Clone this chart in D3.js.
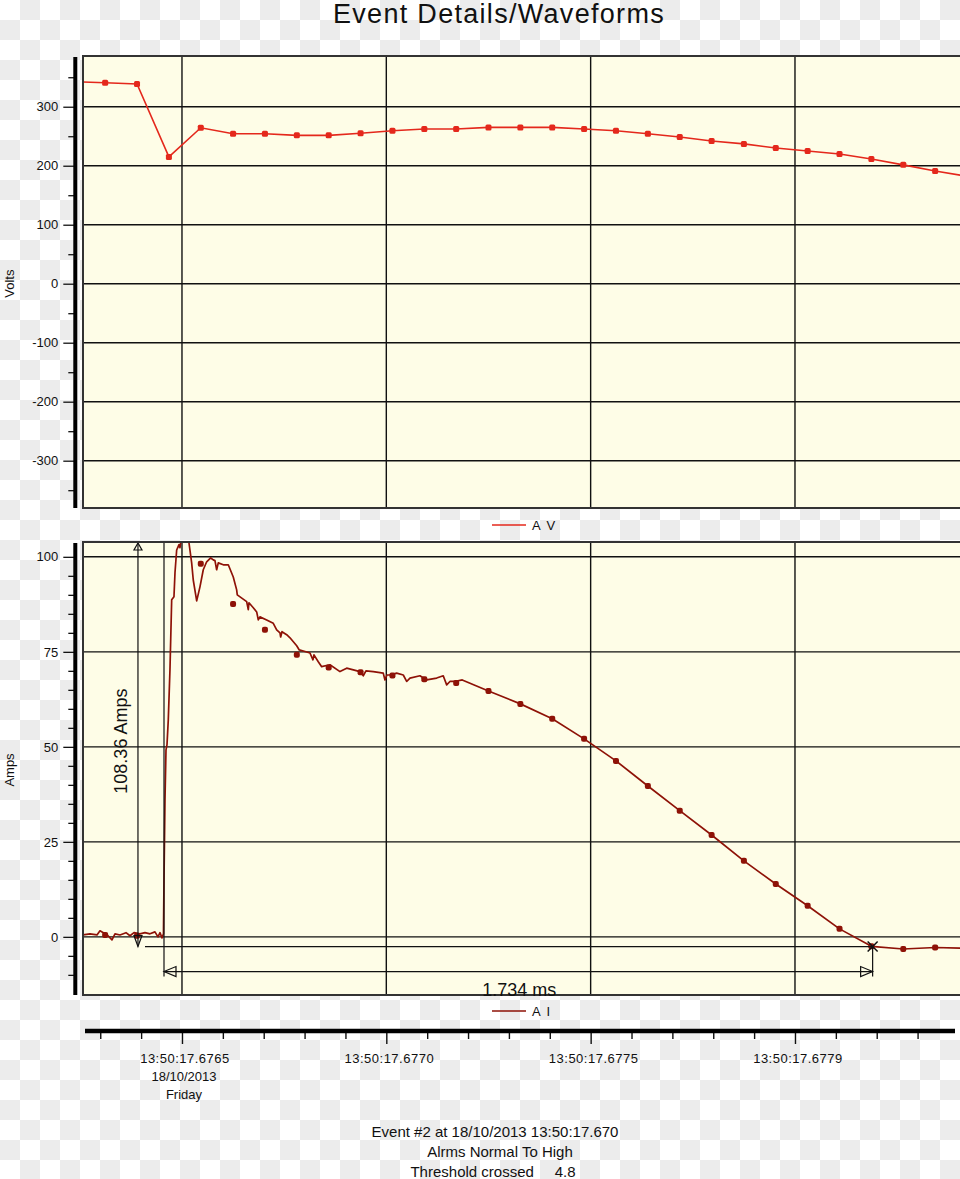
<!DOCTYPE html>
<html><head><meta charset="utf-8">
<script src="https://cdn.jsdelivr.net/npm/d3@7"></script>
<style>
body{margin:0;background:#fff;}
svg{display:block;font-family:"Liberation Sans",Arial,sans-serif;}
</style>
</head><body><svg id="c" width="960" height="1179"></svg>
<script>
// ---- data (time in ms after 13:50:17.676) ----
const sampleTimeMs = [0.234, 0.312, 0.390, 0.468, 0.546, 0.625, 0.703, 0.781, 0.859, 0.937, 1.015, 1.093, 1.171, 1.250, 1.328, 1.406, 1.484, 1.562, 1.640, 1.718, 1.796, 1.875, 1.953, 2.031, 2.109, 2.187, 2.265, 2.343, 2.421];
const voltsAV = [342.6, 340.7, 338.5, 215, 264.4, 254.2, 254.2, 251.5, 251.5, 255, 259.3, 262.2, 262.2, 265, 265, 265, 262.2, 259.3, 254.2, 248.6, 242, 237, 230, 225, 220, 211.5, 201.5, 191, 182];
const ampsAISamples = [0.3, 0.5, 0.3, null, 98.2, 87.6, 80.8, 74.2, 70.9, 69.6, 68.8, 67.8, 66.8, 64.7, 61.3, 57.4, 52.1, 46.3, 39.7, 33.2, 26.8, 20.0, 13.9, 8.2, 2.1, -2.5, -3.2, -2.8, -3.0];
const traceTimeMs = [0.2578, 0.2749, 0.2920, 0.2994, 0.3116, 0.3190, 0.3287, 0.3361, 0.3483, 0.3630, 0.3728, 0.3826, 0.3972, 0.4095, 0.4217, 0.4339, 0.4413, 0.4462, 0.4511, 0.4547,
  0.4560, 0.4584, 0.4609, 0.4633, 0.4665, 0.4706, 0.4748, 0.4804, 0.4829, 0.4870, 0.4927, 0.4951, 0.4993, 0.5115, 0.5171, 0.5237, 0.5276, 0.5360, 0.5440, 0.5521, 0.5604, 0.5702, 0.5766, 0.5807, 0.5849, 0.5888, 0.6011, 0.6133, 0.6255, 0.6338, 0.6353, 0.6583, 0.6622, 0.6639, 0.6745, 0.6828, 0.6867, 0.6908, 0.7072, 0.7234, 0.7317, 0.7398, 0.7415, 0.7447, 0.7562, 0.7643, 0.7807, 0.7870, 0.8010, 0.8132, 0.8205, 0.8230, 0.8335, 0.8418, 0.8621, 0.8866, 0.9030, 0.9355, 0.9436, 0.9502, 0.9681, 0.9925, 0.9967, 1.0015, 1.0089, 1.0253, 1.0415, 1.0498, 1.0579, 1.0823, 1.0987, 1.1232, 1.1393, 1.1477, 1.1557, 1.1680, 1.1858];
const traceAmpsAI = [0.5, 0.8, 0.5, 1.6, 0.8, 0.3, -0.8, 0.8, 0.5, 1.1, 0.3, 1.1, 0.8, 1.1, 0.8, 1.3, 0.0, 1.1, -0.3, 0.8,
  15, 36, 49.2, 50.5, 57.1, 70.3, 88.7, 89.5, 95.8, 101.8, 103.2, 102.4, 105.8, 105.8, 103.7, 98.4, 93.9, 88.4, 92.1, 96.6, 98.7, 99.7, 99.2, 99.0, 96.6, 98.4, 97.9, 97.9, 94.7, 91.3, 90.0, 88.2, 86.1, 87.9, 86.6, 85.5, 83.4, 84.2, 83.4, 82.5, 80.8, 80.0, 78.9, 80.3, 79.5, 78.7, 76.6, 75.5, 75.1, 74.7, 72.9, 74.2, 72.4, 71.1, 71.6, 69.8, 70.7, 69.8, 68.7, 70.0, 69.8, 69.4, 67.6, 68.9, 68.9, 69.4, 68.9, 67.2, 68.1, 68.7, 67.6, 68.1, 68.7, 66.3, 67.2, 67.2, 67.6];
const timeMajorTicks = [0.5, 1.0, 1.5, 2.0];
const timeTickLabels = ["13:50:17.6765", "13:50:17.6770", "13:50:17.6775", "13:50:17.6779"];
const timeMinorTicks = [0.3, 0.4, 0.6, 0.7, 0.8, 0.9, 1.1, 1.2, 1.3, 1.4, 1.6, 1.7, 1.8, 1.9, 2.1, 2.2, 2.3];
const voltTicks = [-300, -200, -100, 0, 100, 200, 300];
const voltMinorTicks = [-350, -250, -150, -50, 50, 150, 250, 350];
const ampTicks = [0, 25, 50, 75, 100];
const ampMinorTicks = [-10, -5, 5, 10, 15, 20, 30, 35, 40, 45, 55, 60, 65, 70, 80, 85, 90, 95];
const peakAmps = 105.81, thresholdAmps = -2.55;
const measureStartMs = 0.456, measureDurationMs = 1.734, peakMarkerMs = 0.3923, thresholdLineStartMs = 0.4095;
const footerLines = ["Event #2 at 18/10/2013 13:50:17.670", "Alrms Normal To High", "Threshold crossed     4.8"];

// ---- drawing ----
const svg = d3.select("#c");
const defs = svg.append("defs");
const pat = defs.append("pattern").attr("id", "chk").attr("width", 40).attr("height", 40).attr("patternUnits", "userSpaceOnUse");
pat.append("rect").attr("width", 40).attr("height", 40).attr("fill", "#ffffff");
pat.append("rect").attr("x", 20).attr("y", 0).attr("width", 20).attr("height", 20).attr("fill", "#ececec");
pat.append("rect").attr("x", 0).attr("y", 20).attr("width", 20).attr("height", 20).attr("fill", "#ececec");
svg.append("rect").attr("width", 960).attr("height", 1179).attr("fill", "url(#chk)");

const L = 83, R = 962;
const x = d3.scaleLinear().domain([0.2578, 2.4038]).range([83, 960]);
const yV = d3.scaleLinear().domain([-380.2, 386]).range([508, 56]);
const yA = d3.scaleLinear().domain([-15.3, 103.9]).range([995, 542]);
const CREAM = "#fefde7", RED = "#e4281c", DRED = "#8e1207";

svg.append("text").attr("x", 499).attr("y", 23).attr("text-anchor", "middle")
  .attr("font-size", 27).attr("letter-spacing", 1.3).attr("fill", "#111").text("Event Details/Waveforms");

function panel(y, ticks, minor, id) {
  const [b, t] = y.range();
  const g = svg.append("g");
  defs.append("clipPath").attr("id", id).append("rect").attr("x", L).attr("y", t).attr("width", R - L).attr("height", b - t);
  g.append("rect").attr("x", L).attr("y", t).attr("width", R - L).attr("height", b - t).attr("fill", CREAM);
  g.selectAll(".hg").data(ticks).join("line").attr("x1", L).attr("x2", R)
    .attr("y1", d => y(d)).attr("y2", d => y(d)).attr("stroke", "#111").attr("stroke-width", 1.4);
  g.selectAll(".vg").data(timeMajorTicks).join("line").attr("x1", d => x(d)).attr("x2", d => x(d))
    .attr("y1", t).attr("y2", b).attr("stroke", "#111").attr("stroke-width", 1.4);
  const ax = svg.append("g").attr("transform", "translate(75.3,0)");
  ax.call(d3.axisLeft(y).tickValues(ticks).tickSize(12).tickPadding(5).tickFormat(d => String(d)));
  ax.append("g").call(d3.axisLeft(y).tickValues(minor).tickSize(7).tickFormat(""));
  ax.selectAll(".domain").remove();
  ax.selectAll("line").attr("stroke", "#111").attr("stroke-width", 1.3);
  ax.selectAll("text").attr("font-size", 13).attr("fill", "#111").attr("font-family", "Liberation Sans, Arial, sans-serif");
  ax.append("line").attr("x1", 0).attr("x2", 0).attr("y1", t + 1).attr("y2", b).attr("stroke", "#000").attr("stroke-width", 4);
  return {g, t, b};
}

// top panel
const P1 = panel(yV, voltTicks, voltMinorTicks, "clipV");
const vData = sampleTimeMs.map((t, i) => ({t, v: voltsAV[i]}));
const gV = P1.g.append("g").attr("clip-path", "url(#clipV)");
gV.append("path").datum(vData).attr("fill", "none").attr("stroke", RED).attr("stroke-width", 1.6)
  .attr("d", d3.line().x(d => x(d.t)).y(d => yV(d.v)));
gV.selectAll(".mv").data(vData).join("rect").attr("x", d => x(d.t) - 3).attr("y", d => yV(d.v) - 3)
  .attr("width", 6).attr("height", 6).attr("rx", 1.5).attr("fill", RED);
P1.g.append("rect").attr("x", L).attr("y", P1.t).attr("width", R - L).attr("height", P1.b - P1.t)
  .attr("fill", "none").attr("stroke", "#333").attr("stroke-width", 2);

// bottom panel
const P2 = panel(yA, ampTicks, ampMinorTicks, "clipA");
const gA = P2.g.append("g").attr("clip-path", "url(#clipA)");
const traceData = traceTimeMs.map((t, i) => ({t, v: traceAmpsAI[i]}))
  .concat(sampleTimeMs.map((t, i) => ({t, v: ampsAISamples[i]})).filter(d => d.t > 1.2 && d.v !== null));
gA.append("path").datum(traceData).attr("fill", "none").attr("stroke", DRED).attr("stroke-width", 1.7)
  .attr("stroke-linejoin", "round").attr("d", d3.line().x(d => x(d.t)).y(d => yA(d.v)));
gA.selectAll(".ma").data(sampleTimeMs.map((t, i) => ({t, v: ampsAISamples[i]})).filter(d => d.v !== null))
  .join("rect").attr("x", d => x(d.t) - 3).attr("y", d => yA(d.v) - 3)
  .attr("width", 6).attr("height", 6).attr("rx", 2).attr("fill", DRED);

// annotations
const an = P2.g.append("g").attr("stroke", "#111").attr("stroke-width", 1.2).attr("fill", "none");
const xs = x(measureStartMs), xe = x(measureStartMs + measureDurationMs), xp = x(peakMarkerMs);
const yT = yA(thresholdAmps), yM = yT + 25;
an.append("line").attr("x1", xp).attr("x2", xp).attr("y1", P2.t).attr("y2", yT);
an.append("path").attr("d", `M${xp},${P2.t + 1}l-4,7h8z`);
an.append("path").attr("d", `M${xp},${yT}l-4,-11h8z`);
an.append("line").attr("x1", x(thresholdLineStartMs)).attr("x2", xe).attr("y1", yT).attr("y2", yT);
an.append("line").attr("x1", xs).attr("x2", xs).attr("y1", P2.t).attr("y2", yM + 5);
an.append("path").attr("d", `M${xs + 8},${P2.t}l-3,-5l-3,5`).attr("clip-path", "url(#clipA)");
an.append("line").attr("x1", xs).attr("x2", xe).attr("y1", yM).attr("y2", yM);
an.append("path").attr("d", `M${xs},${yM}l12,-5v10z`);
an.append("path").attr("d", `M${xe},${yM}l-12,-5v10z`);
an.append("line").attr("x1", xe).attr("x2", xe).attr("y1", yT).attr("y2", yM + 5);
an.append("path").attr("d", `M${xe - 5},${yT - 5}l10,10M${xe + 5},${yT - 5}l-10,10`).attr("stroke-width", 1.5);
P2.g.append("rect").attr("x", L).attr("y", P2.t).attr("width", R - L).attr("height", P2.b - P2.t)
  .attr("fill", "none").attr("stroke", "#333").attr("stroke-width", 2);
svg.append("text").attr("transform", `translate(${xp - 11},${yA(51.5)}) rotate(-90)`).attr("text-anchor", "middle")
  .attr("font-size", 18).attr("fill", "#111").text((peakAmps - thresholdAmps).toFixed(2) + " Amps");
svg.append("text").attr("x", (xs + xe) / 2 + 1).attr("y", 996).attr("text-anchor", "middle")
  .attr("font-size", 18).attr("fill", "#111").text(measureDurationMs.toFixed(3) + " ms");

// y labels
svg.append("text").attr("transform", `translate(14,${yV(0)}) rotate(-90)`).attr("text-anchor", "middle")
  .attr("font-size", 13).attr("fill", "#111").text("Volts");
svg.append("text").attr("transform", `translate(14,770) rotate(-90)`).attr("text-anchor", "middle")
  .attr("font-size", 13).attr("fill", "#111").text("Amps");

// legends
function legend(y, color, label) {
  svg.append("line").attr("x1", 492).attr("x2", 526).attr("y1", y).attr("y2", y).attr("stroke", color).attr("stroke-width", 1.5);
  svg.append("text").attr("x", 532).attr("y", y + 5).attr("font-size", 13).attr("letter-spacing", 1.5).attr("fill", "#111").text(label);
}
legend(525, RED, "A V");
legend(1011, DRED, "A I");

// time axis
const tax = svg.append("g").attr("transform", "translate(0,1031)");
tax.call(d3.axisBottom(x).tickValues(timeMajorTicks).tickSize(13).tickFormat(""));
tax.append("g").call(d3.axisBottom(x).tickValues(timeMinorTicks).tickSize(8).tickFormat(""));
tax.selectAll(".domain").remove();
tax.selectAll("line").attr("stroke", "#111").attr("stroke-width", 1.4);
tax.append("line").attr("x1", 85).attr("x2", 955).attr("y1", 0).attr("y2", 0).attr("stroke", "#000").attr("stroke-width", 4.5);
const tl = svg.append("g").attr("font-size", 13).attr("fill", "#111").attr("text-anchor", "middle");
timeMajorTicks.forEach((t, i) => {
  tl.append("text").attr("x", x(t) + 3).attr("y", 1063).attr("letter-spacing", 0.5).text(timeTickLabels[i]);
});
tl.append("text").attr("x", x(timeMajorTicks[0]) + 2).attr("y", 1081).text("18/10/2013");
tl.append("text").attr("x", x(timeMajorTicks[0]) + 2).attr("y", 1099).text("Friday");

// footer
const ft = svg.append("g").attr("font-size", 15).attr("fill", "#111").attr("text-anchor", "middle");
[[495, 1137], [500, 1157], [493, 1177]].forEach((p, i) => {
  ft.append("text").attr("x", p[0]).attr("y", p[1]).attr("xml:space", "preserve").style("white-space", "pre").text(footerLines[i]);
});
</script></body></html>
